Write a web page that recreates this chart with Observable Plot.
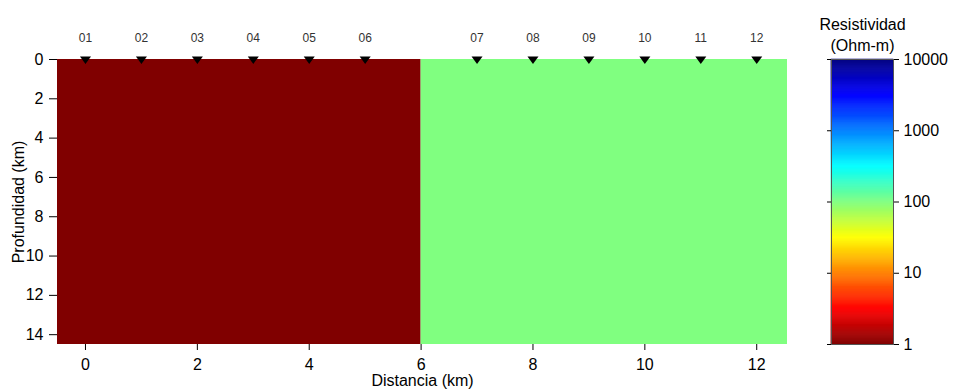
<!DOCTYPE html>
<html>
<head>
<meta charset="utf-8">
<script src="https://cdn.jsdelivr.net/npm/d3@7"></script>
<script src="https://cdn.jsdelivr.net/npm/@observablehq/plot@0.6"></script>
<style>
  html, body { margin: 0; padding: 0; background: #fff; }
  #chart { position: relative; width: 954px; height: 389px; }
  #chart svg { position: absolute; left: 0; top: 0; }
</style>
</head>
<body>
<div id="chart"></div>
<script>
// Resistivity model: two blocks along the profile
const blockStart = [-0.5, 6];   // km
const blockEnd = [6, 12.55];    // km
const blockResistivity = [1, 100]; // Ohm-m
const depthTop = 0;
const depthBottom = 14.5; // km

// Stations along the profile
const stationNames = ["01", "02", "03", "04", "05", "06", "07", "08", "09", "10", "11", "12"];
const stationPositions = [0, 1, 2, 3, 4, 5, 7, 8, 9, 10, 11, 12]; // km

// Axis ticks
const distanceTicks = [0, 2, 4, 6, 8, 10, 12];
const depthTicks = [0, 2, 4, 6, 8, 10, 12, 14];
const resistivityTicks = [1, 10, 100, 1000, 10000];

// Jet colormap, reversed so low resistivity is dark red
function jet(t) {
  const c = v => Math.max(0, Math.min(1, v));
  const r = c(1.5 - Math.abs(4 * t - 3));
  const g = c(1.5 - Math.abs(4 * t - 2));
  const b = c(1.5 - Math.abs(4 * t - 1));
  return d3.rgb(r * 255, g * 255, b * 255).formatHex();
}
const colorOptions = {type: "log", domain: [1, 10000], interpolate: t => jet(1 - t)};

const blocks = blockResistivity.map((rho, i) => ({x1: blockStart[i], x2: blockEnd[i], rho}));
const stations = stationNames.map((name, i) => ({name, x: stationPositions[i]}));

// Downward-pointing station marker
const stationSymbol = {
  draw(context) {
    context.moveTo(-5.5, -3);
    context.lineTo(5.5, -3);
    context.lineTo(0, 4.5);
    context.closePath();
  }
};

const font = "'Liberation Sans', Arial, sans-serif";

const main = Plot.plot({
  width: 954,
  height: 389,
  marginLeft: 57,
  marginRight: 167,
  marginTop: 59,
  marginBottom: 45,
  style: {fontFamily: font, fontSize: "16px", color: "#000", background: "transparent"},
  x: {domain: [-0.5, 12.55]},
  y: {domain: [depthTop, depthBottom], reverse: true},
  color: colorOptions,
  marks: [
    Plot.rect(blocks, {x1: "x1", x2: "x2", y1: depthTop, y2: depthBottom, fill: "rho"}),
    Plot.axisX({ticks: distanceTicks, tickSize: 6, tickPadding: 8, label: "Distancia (km)", labelAnchor: "center", labelArrow: "none", labelOffset: 41}),
    Plot.axisY({ticks: depthTicks, tickSize: 8, tickPadding: 6, label: "Profundidad (km)", labelAnchor: "center", labelArrow: "none", labelOffset: 45}),
    Plot.dot(stations, {x: "x", y: () => depthTop, symbol: stationSymbol, r: 4, fill: "#000", stroke: "none"}),
    Plot.text(stations, {x: "x", y: () => depthTop, text: "name", dy: -21, fontSize: 12, fill: "#333"})
  ]
});

// Vertical colour bar built from thin strips on a log scale
const strips = d3.range(0, 300).map(i => ({
  lo: 10 ** (4 * i / 300),
  hi: 10 ** (4 * (i + 1) / 300),
  mid: 10 ** (4 * (i + 0.5) / 300)
}));

const bar = Plot.plot({
  width: 954,
  height: 389,
  marginLeft: 831,
  marginRight: 61,
  marginTop: 59,
  marginBottom: 45,
  style: {fontFamily: font, fontSize: "16px", color: "#000", background: "transparent"},
  x: {domain: [0, 1], axis: null},
  y: {type: "log", domain: [1, 10000]},
  color: colorOptions,
  marks: [
    Plot.rect(strips, {x1: 0, x2: 1, y1: "lo", y2: "hi", fill: "mid", stroke: "mid", strokeWidth: 0.6}),
    Plot.frame({stroke: "#555", strokeWidth: 1}),
    Plot.axisY({anchor: "right", ticks: resistivityTicks, tickFormat: d => String(d), tickSize: 5, tickPadding: 5, label: null}),
    Plot.axisY({anchor: "left", ticks: resistivityTicks, tickFormat: () => "", tickSize: 4, label: null}),
    Plot.text(["Resistividad\n(Ohm-m)"], {frameAnchor: "top", dy: -44, lineAnchor: "top", lineHeight: 1.3, fontSize: 16, fill: "#000"})
  ]
});

const chart = document.getElementById("chart");
chart.appendChild(main);
chart.appendChild(bar);
</script>
</body>
</html>
